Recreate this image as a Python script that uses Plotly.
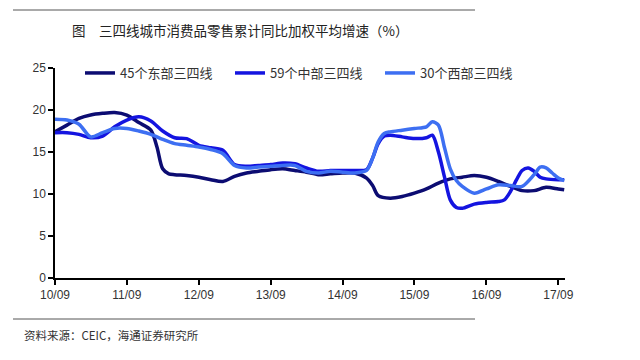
import plotly.graph_objects as go

# ---- data (month strings, values in %) ----
east_dates = ["2010-09","2010-11","2011-01","2011-03","2011-05","2011-07","2011-09","2011-11","2012-01","2012-02","2012-03","2012-04","2012-05","2012-07","2012-09","2012-11","2013-01","2013-03","2013-05","2013-07","2013-09","2013-11","2014-01","2014-03","2014-05","2014-07","2014-09","2014-11","2015-01","2015-02","2015-03","2015-05","2015-07","2015-09","2015-11","2016-01","2016-03","2016-05","2016-07","2016-09","2016-11","2017-01","2017-03","2017-05","2017-07","2017-09","2017-10"]
east_vals = [17.4,18.2,19.0,19.4,19.6,19.7,19.4,18.5,17.6,15.6,13.0,12.4,12.3,12.2,12.0,11.7,11.5,12.1,12.5,12.7,12.9,13.0,12.8,12.6,12.3,12.4,12.5,12.5,11.9,11.0,9.8,9.5,9.7,10.1,10.6,11.3,11.8,12.0,12.2,12.0,11.5,10.9,10.4,10.4,10.8,10.6,10.5]

mid_dates = ["2010-09","2010-11","2011-01","2011-03","2011-05","2011-07","2011-09","2011-11","2012-01","2012-03","2012-05","2012-07","2012-09","2012-11","2013-01","2013-03","2013-05","2013-07","2013-09","2013-11","2014-01","2014-03","2014-05","2014-07","2014-09","2014-11","2015-01","2015-02","2015-03","2015-04","2015-05","2015-07","2015-09","2015-11","2015-12","2016-01","2016-02","2016-03","2016-04","2016-05","2016-07","2016-09","2016-11","2016-12","2017-01","2017-02","2017-03","2017-04","2017-05","2017-06","2017-07","2017-09","2017-10"]
mid_vals = [17.3,17.3,17.1,16.7,16.9,18.0,18.8,19.2,18.7,17.5,16.7,16.6,15.8,15.5,15.2,13.5,13.3,13.4,13.5,13.7,13.6,13.1,12.7,12.8,12.8,12.8,12.9,14.3,16.0,16.9,17.0,16.8,16.6,16.7,17.0,15.0,12.0,9.3,8.4,8.3,8.8,9.0,9.1,9.3,10.3,11.7,12.8,13.1,12.7,12.0,11.8,11.7,11.7]

west_dates = ["2010-09","2010-11","2011-01","2011-03","2011-05","2011-07","2011-09","2011-11","2012-01","2012-03","2012-05","2012-07","2012-09","2012-11","2013-01","2013-03","2013-05","2013-07","2013-09","2013-11","2014-01","2014-03","2014-05","2014-07","2014-09","2014-11","2015-01","2015-02","2015-03","2015-04","2015-05","2015-07","2015-09","2015-11","2015-12","2016-01","2016-02","2016-03","2016-04","2016-05","2016-07","2016-09","2016-11","2017-01","2017-03","2017-05","2017-06","2017-07","2017-08","2017-09","2017-10"]
west_vals = [18.9,18.8,18.3,16.8,17.3,17.8,17.8,17.5,17.1,16.5,16.0,15.8,15.6,15.3,14.8,13.4,13.1,13.2,13.3,13.4,13.4,12.7,12.5,12.7,12.6,12.5,12.8,14.3,16.2,17.2,17.4,17.6,17.8,18.0,18.6,18.2,15.5,13.0,11.6,10.9,10.1,10.6,11.1,11.0,10.9,12.3,13.2,13.1,12.5,11.9,11.6]

series_names = ["45个东部三四线", "59个中部三四线", "30个西部三四线"]
series_colors = ["#0c0c72", "#1414e0", "#3d6ff2"]

tick_dates = ["2010-09-01","2011-09-01","2012-09-01","2013-09-01","2014-09-01","2015-09-01","2016-09-01","2017-09-01"]
tick_labels = ["10/09","11/09","12/09","13/09","14/09","15/09","16/09","17/09"]
y_ticks = [0, 5, 10, 15, 20, 25]

title_text = "图　三四线城市消费品零售累计同比加权平均增速（%）"
source_text = "资料来源：CEIC，海通证券研究所"

CJK = "Noto Sans CJK SC"
LAT = "Liberation Sans, Arial"

# page offset (body margin) is 8px; plot area is 510 x 210 px
PW, PH = 510, 210
def px(xs):  # screen x -> paper x
    return (xs - 55) / PW
def py(ys):  # screen y -> paper y
    return (278 - ys) / PH

legend_ids = ["legend", "legend2", "legend3"]
legend_x = [px(80), px(230), px(380)]

fig = go.Figure()
for d, v, n, c, lg in zip([east_dates, mid_dates, west_dates],
                          [east_vals, mid_vals, west_vals],
                          series_names, series_colors, legend_ids):
    fig.add_trace(go.Scatter(
        x=d, y=v, name=n, mode="lines", legend=lg,
        line=dict(color=c, width=3.5, shape="spline", smoothing=0.8),
    ))

leg_common = dict(orientation="h", yanchor="middle", xanchor="left",
                  font=dict(family=CJK, size=13, color="#333333"),
                  bgcolor="rgba(0,0,0,0)", itemwidth=30)

fig.update_layout(
    width=624, height=344,
    margin=dict(l=47, r=67, t=60, b=74),
    paper_bgcolor="white", plot_bgcolor="white",
    showlegend=True,
    legend=dict(x=legend_x[0], y=py(73), **leg_common),
    legend2=dict(x=legend_x[1], y=py(73), **leg_common),
    legend3=dict(x=legend_x[2], y=py(73), **leg_common),
    xaxis=dict(
        type="date", range=["2010-09-01", "2017-10-05"],
        tickvals=tick_dates, ticktext=tick_labels,
        showgrid=False, zeroline=False,
        showline=True, linecolor="black", linewidth=1.5,
        ticks="outside", ticklen=5, tickcolor="black", tickwidth=1.5,
        tickfont=dict(family=LAT, size=12, color="#333333"),
    ),
    yaxis=dict(
        range=[0, 25], tickvals=y_ticks,
        showgrid=False, zeroline=False,
        showline=True, linecolor="black", linewidth=1.5,
        ticks="outside", ticklen=5, tickcolor="black", tickwidth=1.5,
        tickfont=dict(family=LAT, size=12, color="#333333"),
    ),
    annotations=[
        dict(text=title_text, xref="paper", yref="paper",
             x=px(240), y=py(30), xanchor="center", yanchor="middle",
             showarrow=False, font=dict(family=CJK, size=13.5, color="#222222")),
        dict(text=source_text, xref="paper", yref="paper",
             x=px(22), y=py(335), xanchor="left", yanchor="middle",
             showarrow=False, font=dict(family=CJK, size=11.5, color="#333333")),
    ],
    shapes=[
        dict(type="line", xref="paper", yref="paper",
             x0=px(13), x1=px(475), y0=py(10), y1=py(10),
             line=dict(color="#555555", width=1)),
        dict(type="line", xref="paper", yref="paper",
             x0=px(13), x1=px(475), y0=py(319), y1=py(319),
             line=dict(color="#555555", width=1)),
    ],
)

fig.write_html("out.html")
